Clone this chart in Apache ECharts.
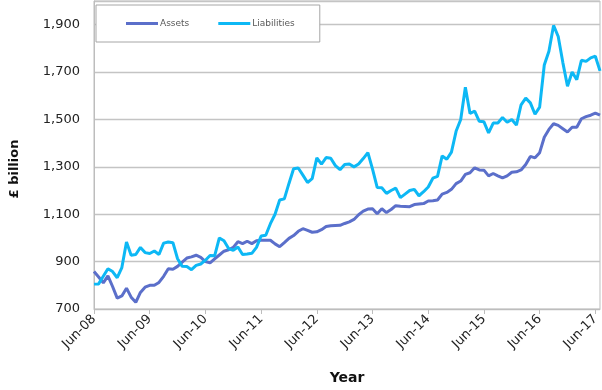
<!DOCTYPE html>
<html>
<head>
<meta charset="utf-8">
<script src="https://cdn.jsdelivr.net/npm/echarts@6/dist/echarts.min.js"></script>
<style>html,body{margin:0;padding:0;background:#fff}#c{width:602px;height:390px}</style>
</head>
<body>
<div id="c"></div>
<script>
// Month categories Jun-08 .. Jul-17
const monthNames = ['Jan','Feb','Mar','Apr','May','Jun','Jul','Aug','Sep','Oct','Nov','Dec'];
const startYear = 2008, startMonth = 5, monthCount = 110;
const categories = [];
for (let i = 0; i < monthCount; i++) {
  const m = (startMonth + i) % 12;
  const y = startYear + Math.floor((startMonth + i) / 12);
  categories.push(monthNames[m] + '-' + String(y % 100).padStart(2, '0'));
}

const assets = [
  858, 835, 810, 840, 795, 746, 755, 788, 750, 728,
  770, 792, 800, 800, 812, 838, 870, 868, 880, 898,
  915, 920, 927, 918, 900, 895, 912, 928, 944, 950,
  960, 984, 976, 986, 976, 988, 990, 990, 990, 975,
  963, 980, 998, 1010, 1028, 1039, 1032, 1024, 1026, 1035,
  1048, 1051, 1052, 1053, 1061, 1068, 1078, 1098, 1113, 1122,
  1123, 1102, 1123, 1107, 1120, 1136, 1134, 1133, 1132, 1141,
  1143, 1145, 1156, 1157, 1160, 1185, 1192, 1205, 1229, 1240,
  1268, 1275, 1296, 1287, 1286, 1262, 1272, 1262, 1253, 1262,
  1277, 1279, 1287, 1310, 1344, 1338, 1360, 1425, 1458, 1482,
  1475, 1461, 1447, 1467, 1467, 1503, 1512, 1518, 1527, 1518
];

const liabilities = [
  805, 806, 838, 870, 858, 832, 875, 983, 927, 930,
  960, 938, 934, 945, 930, 978, 983, 980, 912, 880,
  879, 866, 884, 890, 906, 926, 925, 1000, 988, 955,
  948, 962, 930, 932, 935, 960, 1008, 1011, 1060, 1100,
  1160, 1165, 1230, 1292, 1295, 1265, 1234, 1250, 1338, 1311,
  1339, 1336, 1305, 1288, 1310, 1312, 1300, 1312, 1335, 1360,
  1290, 1213, 1212, 1188, 1200, 1210, 1170, 1185, 1200, 1205,
  1178, 1195, 1215, 1252, 1260, 1346, 1332, 1362, 1450, 1500,
  1636, 1525, 1535, 1492, 1490, 1443, 1485, 1485, 1508, 1488,
  1500, 1476, 1562, 1590, 1570, 1522, 1552, 1730, 1788, 1897,
  1850, 1740, 1640, 1700, 1668, 1750, 1745, 1760, 1767, 1705
];

const seriesNames = ['Assets', 'Liabilities'];
const yTitle = '£ billion';
const xTitle = 'Year';

const FONT = "'DejaVu Sans', Verdana, sans-serif";
const chart = echarts.init(document.getElementById('c'), null, {renderer: 'canvas'});
chart.setOption({
  animation: false,
  backgroundColor: '#fff',
  textStyle: {fontFamily: FONT},
  grid: {left: 87, right: 2, top: 1, bottom: 79, show: true, borderColor: '#bdbdbd', borderWidth: 1},
  legend: {
    left: 96, top: 5,
    padding: [14, 25, 14, 30],
    itemGap: 29,
    icon: 'rect',
    itemWidth: 32, itemHeight: 3,
    borderColor: '#a6a6a6', borderWidth: 1,
    backgroundColor: '#fff',
    textStyle: {fontFamily: FONT, fontSize: 9, color: '#595959', padding: [0, 0, 0, -3]},
    data: seriesNames
  },
  xAxis: {
    type: 'category',
    data: categories,
    boundaryGap: false,
    name: xTitle,
    nameLocation: 'middle',
    nameGap: 62,
    nameTextStyle: {fontFamily: FONT, fontSize: 14, fontWeight: 'bold', color: '#111'},
    axisLine: {lineStyle: {color: '#bdbdbd', width: 1}},
    axisTick: {show: true, interval: 11, length: 5, lineStyle: {color: '#bdbdbd'}},
    axisLabel: {interval: 11, rotate: 45, margin: 8, fontFamily: FONT, fontSize: 13, color: '#222'},
    splitLine: {show: false}
  },
  yAxis: {
    type: 'value',
    min: 700, max: 2000, interval: 200,
    name: yTitle,
    nameLocation: 'middle',
    nameGap: 73,
    nameTextStyle: {fontFamily: FONT, fontSize: 13, fontWeight: 'bold', color: '#111', padding: [0, 28, 0, 0]},
    axisLine: {show: true, lineStyle: {color: '#bdbdbd'}},
    axisTick: {show: false},
    axisLabel: {
      margin: 14, fontFamily: FONT, fontSize: 13, color: '#222', showMaxLabel: false,
      formatter: v => v.toLocaleString('en-US')
    },
    splitLine: {lineStyle: {color: '#c4c4c4', width: 1.3}}
  },
  series: [
    {name: seriesNames[0], type: 'line', data: assets, symbol: 'none', lineStyle: {color: '#5b6fca', width: 3}, itemStyle: {color: '#5b6fca'}},
    {name: seriesNames[1], type: 'line', data: liabilities, symbol: 'none', lineStyle: {color: '#0db8f5', width: 3}, itemStyle: {color: '#0db8f5'}}
  ]
});
</script>
</body>
</html>
